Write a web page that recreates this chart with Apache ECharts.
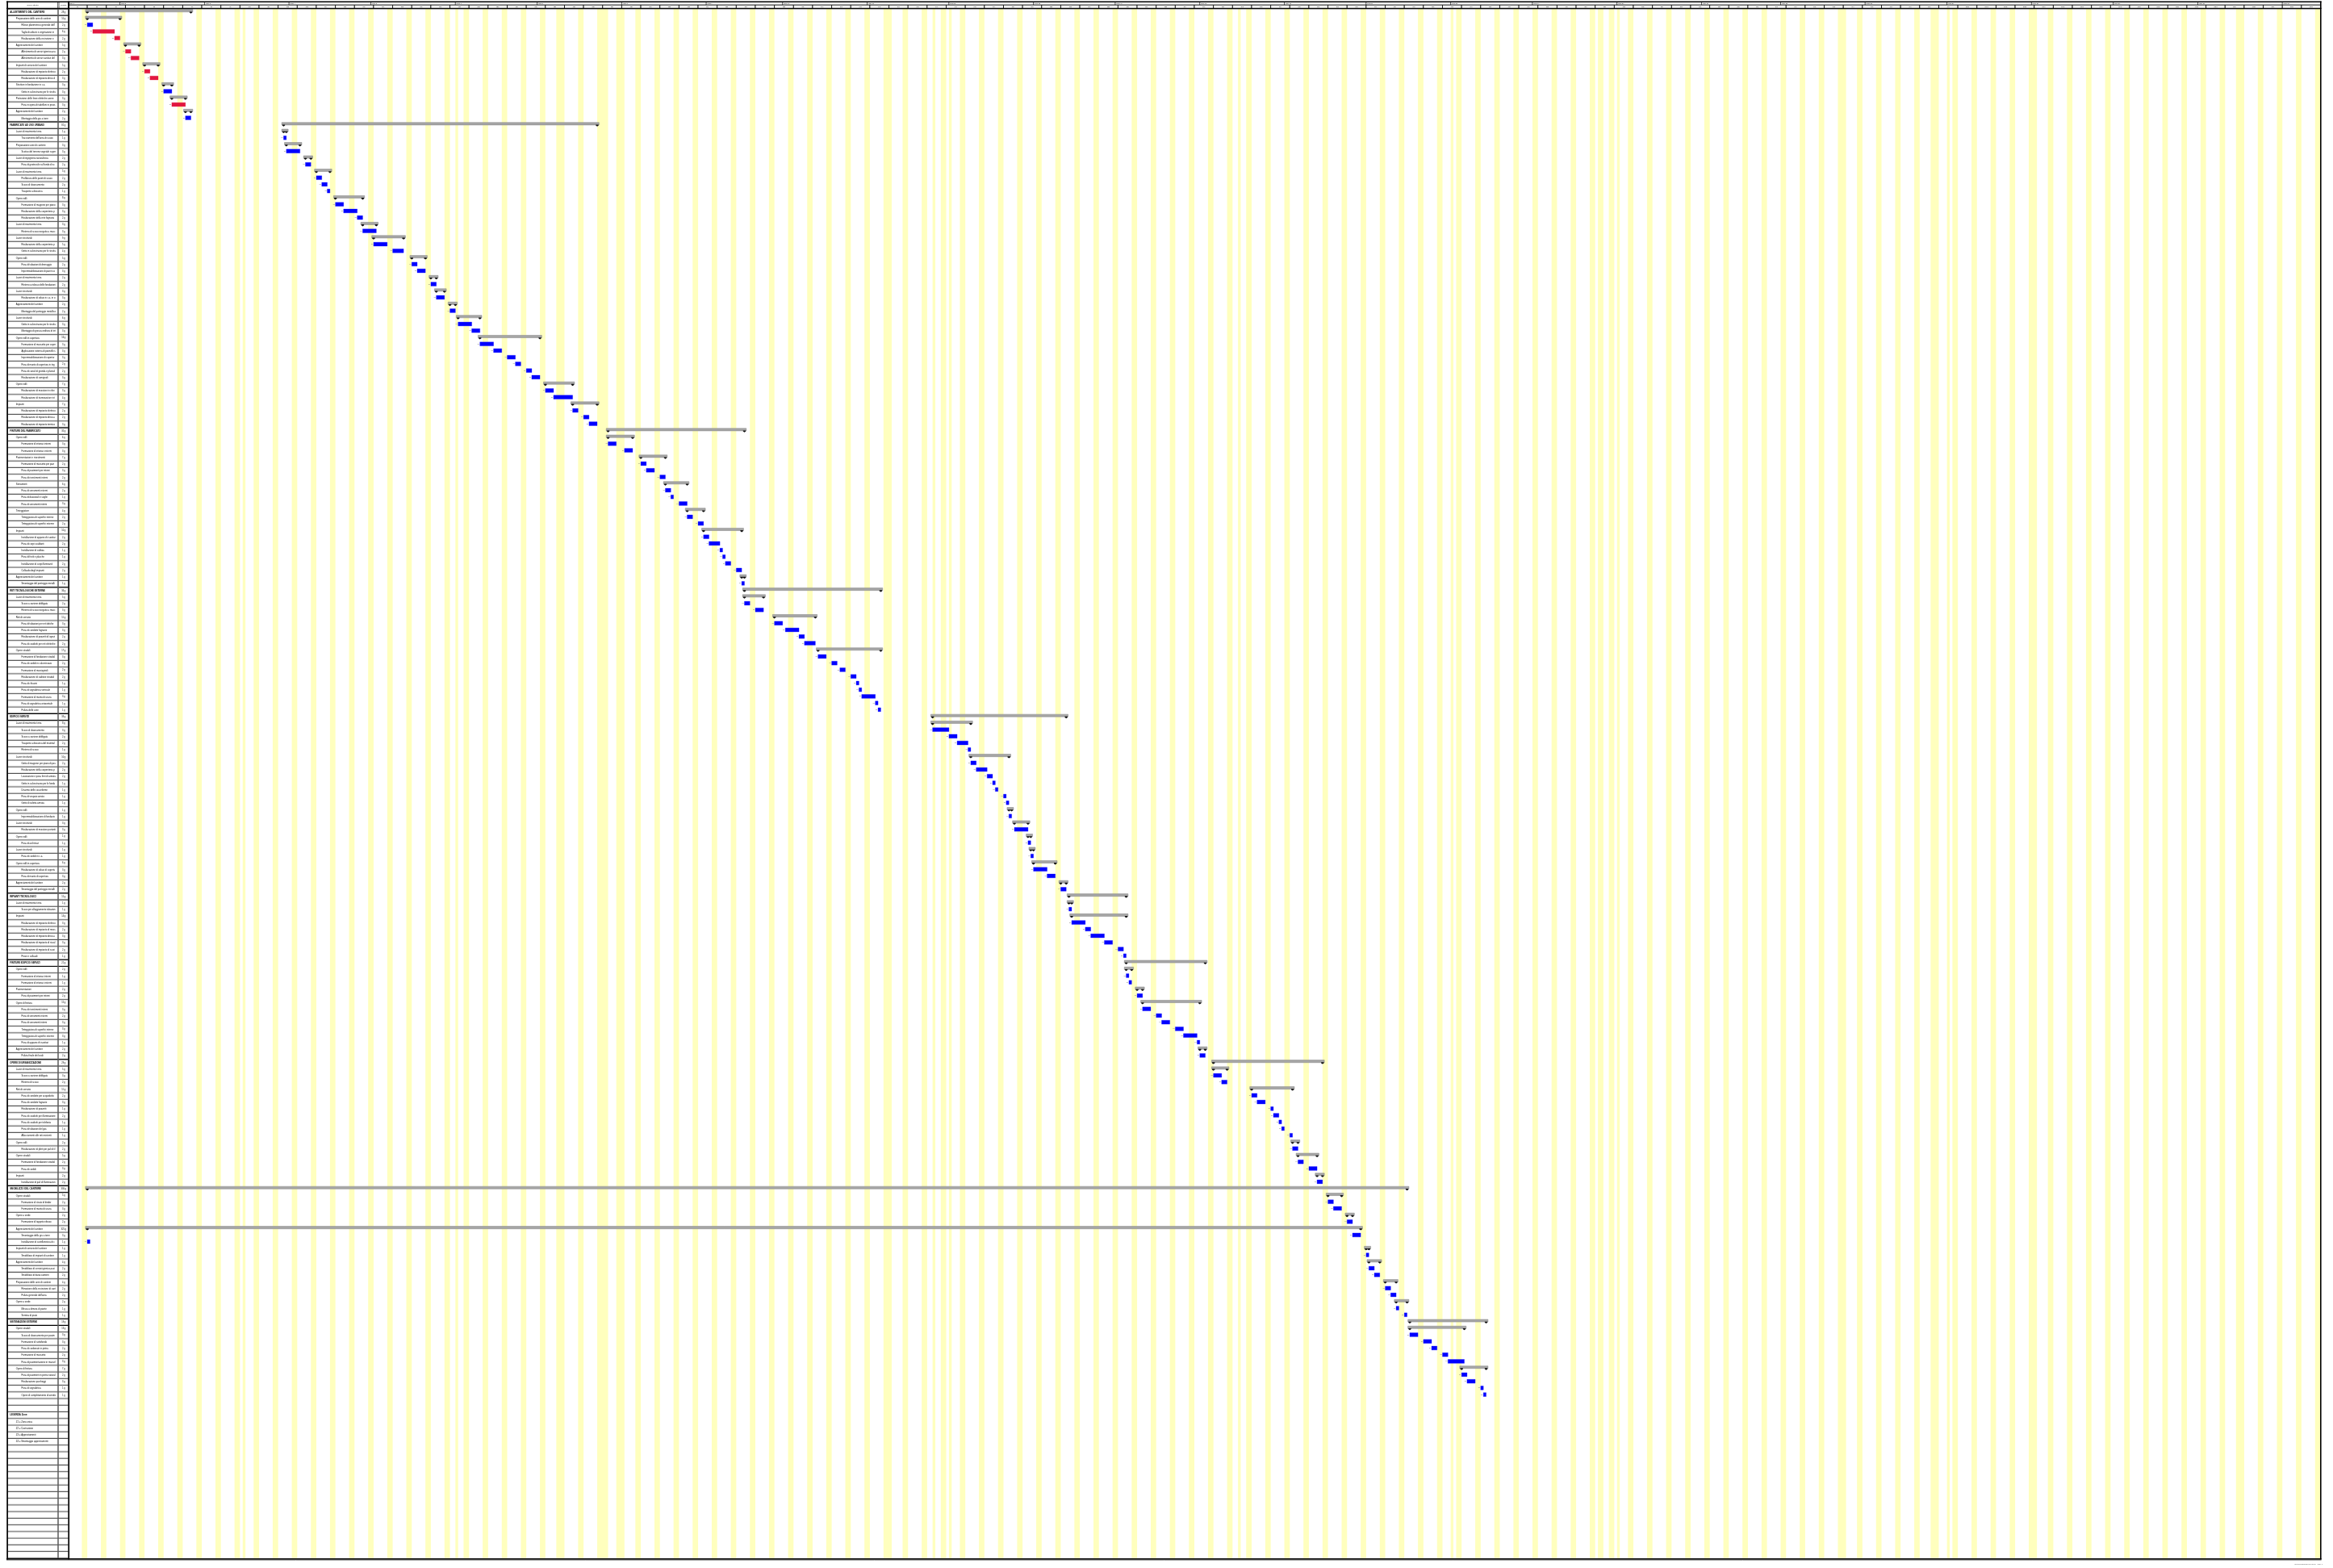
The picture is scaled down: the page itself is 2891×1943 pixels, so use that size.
<!DOCTYPE html>
<html lang="it">
<head>
<meta charset="utf-8">
<title>Cronoprogramma dei lavori</title>
<script src="https://cdn.jsdelivr.net/npm/echarts@6/dist/echarts.min.js"></script>
<style>
html,body{margin:0;padding:0;background:#ffffff;}
#chart{width:2891px;height:1943px;}
</style>
</head>
<body>
<div id="chart"></div>
<script>
// ---- Calendario ----
const inizioCalendario = '2006-06-12';      // lunedì = giorno 0
const giorniTotali = 826;
const righeTabella = 233;
const festivita = ['2006-08-15','2006-11-01','2006-12-08','2006-12-25','2006-12-26','2007-01-01',
  '2007-04-09','2007-04-25','2007-05-01','2007-08-15','2007-11-01','2007-12-25','2007-12-26',
  '2008-01-01','2008-03-24','2008-04-25','2008-05-01','2008-06-02','2008-08-15'];
const etichetteMesi = ['Mese 1','Mese 2','Mese 3','Mese 4','Mese 5','Mese 6','Mese 7','Mese 8',
  'Mese 9','Mese 10','Mese 11','Mese 12','Mese 13','Mese 14','Mese 15','Mese 16','Mese 17',
  'Mese 18','Mese 19','Mese 20','Mese 21','Mese 22','Mese 23','Mese 24','Mese 25','Mese 26',
  'Mese 27','Mese 28'];
const numeroSettimane = 118;
const etichetteSettimane = Array.from({length: numeroSettimane}, (_, i) => 's' + (i + 1));
const zonaPerTipo = {B: 'Z1', R: 'Z3'};

// ---- Attività: [livello, descrizione, inizio, fine (giorni), tipo] ----
// tipo: 'S' = riepilogo, 'B' = lavorazione, 'R' = apprestamento
const allestimentoCantiere = [
  [0,'ALLESTIMENTO DEL CANTIERE',7,45,'S'],
  [1,'Preparazione delle aree di cantiere',7,19,'S'],
  [2,"Rilievo planimetrico generale dell'area",7,9,'B'],
  [2,'Taglio di arbusti e vegetazione in genere',9,17,'R'],
  [2,'Realizzazione della recinzione e degli accessi al cantiere',17,19,'R'],
  [1,'Apprestamenti del cantiere',21,26,'S'],
  [2,'Allestimento di servizi igienico-assistenziali del cantiere',21,23,'R'],
  [2,'Allestimento di servizi sanitari del cantiere',23,26,'R'],
  [1,'Impianti di servizio del cantiere',28,33,'S'],
  [2,'Realizzazione di impianto elettrico del cantiere',28,30,'R'],
  [2,'Realizzazione di impianto idrico del cantiere',30,33,'R'],
  [1,'Strutture in fondazione in c.a.',35,38,'S'],
  [2,'Getto in calcestruzzo per le strutture in fondazione',35,38,'B'],
  [1,'Protezione delle linee elettriche aeree',38,43,'S'],
  [2,'Posa in opera di tabelloni in prossimità di linee aeree',38,43,'R'],
  [1,'Apprestamenti del cantiere',43,45,'S'],
  [2,'Montaggio della gru a torre',43,45,'B']
];
const fabbricatoUrbano = [
  [0,'FABBRICATO AD USO URBANO',79,194,'S'],
  [1,'Lavori di movimento terra',79,80,'S'],
  [2,"Tracciamento dell'area di scavo",79,80,'B'],
  [1,'Preparazione aree di cantiere',80,85,'S'],
  [2,'Scotico del terreno vegetale superficiale',80,85,'B'],
  [1,'Lavori di ingegneria naturalistica',87,89,'S'],
  [2,'Posa di geotessile sul fondo di scavo',87,89,'B'],
  [1,'Lavori di movimento terra',91,96,'S'],
  [2,'Profilatura delle pareti di scavo',91,93,'B'],
  [2,'Scavo di sbancamento',93,95,'B'],
  [2,'Trasporto a discarica',95,96,'B'],
  [1,'Opere edili',98,108,'S'],
  [2,'Formazione di magrone per piano di posa',98,101,'B'],
  [2,'Realizzazione della carpenteria per le strutture',101,106,'B'],
  [2,'Realizzazione della rete fognaria esterna',106,108,'B'],
  [1,'Lavori di movimento terra',108,113,'S'],
  [2,'Rinterro di scavo eseguito a macchina',108,113,'B'],
  [1,'Lavori strutturali',112,123,'S'],
  [2,'Realizzazione della carpenteria per le strutture in fondazione',112,117,'B'],
  [2,'Getto in calcestruzzo per le strutture in fondazione',119,123,'B'],
  [1,'Opere edili',126,131,'S'],
  [2,'Posa di tubazioni di drenaggio',126,128,'B'],
  [2,'Impermeabilizzazione di pareti contro terra',128,131,'B'],
  [1,'Lavori di movimento terra',133,135,'S'],
  [2,'Rinterro a ridosso delle fondazioni',133,135,'B'],
  [1,'Lavori strutturali',135,138,'S'],
  [2,'Realizzazione di solaio in c.a. in opera',135,138,'B'],
  [1,'Apprestamenti del cantiere',140,142,'S'],
  [2,'Montaggio del ponteggio metallico fisso',140,142,'B'],
  [1,'Lavori strutturali',143,151,'S'],
  [2,'Getto in calcestruzzo per le strutture in elevazione',143,148,'B'],
  [2,'Montaggio di grossa orditura di tetto',148,151,'B'],
  [1,'Opere edili in copertura',151,173,'S'],
  [2,'Formazione di massetto per coperture',151,156,'B'],
  [2,'Applicazione esterna di pannelli isolanti',156,159,'B'],
  [2,'Impermeabilizzazione di coperture',161,164,'B'],
  [2,'Posa di manto di copertura in tegole',164,166,'B'],
  [2,'Posa di canali di gronda e pluviali',168,170,'B'],
  [2,'Realizzazione di comignoli',170,173,'B'],
  [1,'Opere edili',175,185,'S'],
  [2,'Realizzazione di murature in elevazione',175,178,'B'],
  [2,'Realizzazione di tramezzature interne',178,185,'B'],
  [1,'Impianti',185,194,'S'],
  [2,'Realizzazione di impianto elettrico',185,187,'B'],
  [2,'Realizzazione di impianto idrico-sanitario',189,191,'B'],
  [2,'Realizzazione di impianto termico',191,194,'B']
];
const finitureFabbricato = [
  [0,'FINITURE DEL FABBRICATO',198,248,'S'],
  [1,'Opere edili',198,207,'S'],
  [2,'Formazione di intonaci interni',198,201,'B'],
  [2,'Formazione di intonaci esterni',204,207,'B'],
  [1,'Pavimentazioni e rivestimenti',210,219,'S'],
  [2,'Formazione di massetto per pavimenti interni',210,212,'B'],
  [2,'Posa di pavimenti per interni',212,215,'B'],
  [2,'Posa di rivestimenti interni',217,219,'B'],
  [1,'Serramenti',219,227,'S'],
  [2,'Posa di serramenti esterni',219,221,'B'],
  [2,'Posa di davanzali e soglie',221,222,'B'],
  [2,'Posa di serramenti interni',224,227,'B'],
  [1,'Tinteggiature',227,233,'S'],
  [2,'Tinteggiatura di superfici interne',227,229,'B'],
  [2,'Tinteggiatura di superfici esterne',231,233,'B'],
  [1,'Impianti',233,247,'S'],
  [2,'Installazione di apparecchi sanitari',233,235,'B'],
  [2,'Posa di corpi scaldanti',235,239,'B'],
  [2,'Installazione di caldaia',239,240,'B'],
  [2,'Posa di frutti e placche',240,241,'B'],
  [2,'Installazione di corpi illuminanti',241,243,'B'],
  [2,'Collaudo degli impianti',245,247,'B'],
  [1,'Apprestamenti del cantiere',247,248,'S'],
  [2,'Smontaggio del ponteggio metallico fisso',247,248,'B']
];
const retiTecnologiche = [
  [0,'RETI TECNOLOGICHE ESTERNE',248,298,'S'],
  [1,'Lavori di movimento terra',248,255,'S'],
  [2,'Scavo a sezione obbligata',248,250,'B'],
  [2,'Rinterro di scavo eseguito a macchina',252,255,'B'],
  [1,'Reti di servizio',259,274,'S'],
  [2,'Posa di tubazioni per reti idriche',259,262,'B'],
  [2,'Posa di condotte fognarie',263,268,'B'],
  [2,'Realizzazione di pozzetti di ispezione',268,270,'B'],
  [2,'Posa di cavidotti per reti elettriche',270,274,'B'],
  [1,'Opere stradali',275,298,'S'],
  [2,'Formazione di fondazione stradale',275,278,'B'],
  [2,'Posa di cordoli in calcestruzzo',280,282,'B'],
  [2,'Formazione di marciapiedi',283,285,'B'],
  [2,'Realizzazione di caditoie stradali',287,289,'B'],
  [2,'Posa di chiusini',289,290,'B'],
  [2,'Posa di segnaletica verticale',290,291,'B'],
  [2,'Formazione di manto di usura',291,296,'B'],
  [2,'Posa di segnaletica orizzontale',296,297,'B'],
  [2,'Pulizia delle aree',297,298,'B']
];
const edificioServizi = [
  [0,'EDIFICIO SERVIZI',317,366,'S'],
  [1,'Lavori di movimento terra',317,331,'S'],
  [2,'Scavo di sbancamento',317,323,'B'],
  [2,'Scavo a sezione obbligata',323,326,'B'],
  [2,'Trasporto a discarica del materiale di scavo',326,330,'B'],
  [2,'Rinterro di scavo',330,331,'B'],
  [1,'Lavori strutturali',331,345,'S'],
  [2,'Getto di magrone per piano di posa',331,333,'B'],
  [2,'Realizzazione della carpenteria per le fondazioni',333,337,'B'],
  [2,'Lavorazione e posa ferri di armatura',337,339,'B'],
  [2,'Getto in calcestruzzo per le fondazioni',339,340,'B'],
  [2,'Disarmo delle casseforme',340,341,'B'],
  [2,'Posa di vespaio aerato',343,344,'B'],
  [2,'Getto di soletta armata',344,345,'B'],
  [1,'Opere edili',345,346,'S'],
  [2,'Impermeabilizzazione di fondazioni',345,346,'B'],
  [1,'Lavori strutturali',347,352,'S'],
  [2,'Realizzazione di murature portanti',347,352,'B'],
  [1,'Opere edili',352,353,'S'],
  [2,'Posa di architravi',352,353,'B'],
  [1,'Lavori strutturali',353,354,'S'],
  [2,'Posa di cordoli in c.a.',353,354,'B'],
  [1,'Opere edili in copertura',354,362,'S'],
  [2,'Realizzazione di solaio di copertura',354,359,'B'],
  [2,'Posa di manto di copertura',359,362,'B'],
  [1,'Apprestamenti del cantiere',364,366,'S'],
  [2,'Smontaggio del ponteggio metallico fisso',364,366,'B']
];
const impiantiTecnologici = [
  [0,'IMPIANTI TECNOLOGICI',367,388,'S'],
  [1,'Lavori di movimento terra',367,368,'S'],
  [2,'Scavo per alloggiamento tubazioni',367,368,'B'],
  [1,'Impianti',368,388,'S'],
  [2,'Realizzazione di impianto elettrico',368,373,'B'],
  [2,'Realizzazione di impianto di messa a terra',373,375,'B'],
  [2,'Realizzazione di impianto idrico-sanitario',375,380,'B'],
  [2,'Realizzazione di impianto di riscaldamento',380,383,'B'],
  [2,'Realizzazione di impianto di scarico',385,387,'B'],
  [2,'Prove e collaudi',387,388,'B']
];
const finitureEdificio = [
  [0,'FINITURE EDIFICIO SERVIZI',388,417,'S'],
  [1,'Opere edili',388,390,'S'],
  [2,'Formazione di intonaci interni',388,389,'B'],
  [2,'Formazione di intonaci esterni',389,390,'B'],
  [1,'Pavimentazioni',392,394,'S'],
  [2,'Posa di pavimenti per interni',392,394,'B'],
  [1,'Opere di finitura',394,415,'S'],
  [2,'Posa di rivestimenti interni',394,397,'B'],
  [2,'Posa di serramenti esterni',399,401,'B'],
  [2,'Posa di serramenti interni',401,404,'B'],
  [2,'Tinteggiatura di superfici interne',406,409,'B'],
  [2,'Tinteggiatura di superfici esterne',409,414,'B'],
  [2,'Posa di apparecchi sanitari',414,415,'B'],
  [1,'Apprestamenti del cantiere',415,417,'S'],
  [2,'Pulizia finale dei locali',415,417,'B']
];
const urbanizzazione = [
  [0,'OPERE DI URBANIZZAZIONE',420,460,'S'],
  [1,'Lavori di movimento terra',420,425,'S'],
  [2,'Scavo a sezione obbligata',420,423,'B'],
  [2,'Rinterro di scavo',423,425,'B'],
  [1,'Reti di servizio',434,449,'S'],
  [2,'Posa di condotte per acquedotto',434,436,'B'],
  [2,'Posa di condotte fognarie',436,439,'B'],
  [2,'Realizzazione di pozzetti',441,442,'B'],
  [2,'Posa di cavidotti per illuminazione pubblica',442,444,'B'],
  [2,'Posa di cavidotti per telefonia',444,445,'B'],
  [2,'Posa di tubazioni del gas',445,446,'B'],
  [2,'Allacciamenti alle reti esistenti',448,449,'B'],
  [1,'Opere edili',449,451,'S'],
  [2,'Realizzazione di plinti per pali di illuminazione',449,451,'B'],
  [1,'Opere stradali',451,458,'S'],
  [2,'Formazione di fondazione stradale',451,453,'B'],
  [2,'Posa di cordoli',455,458,'B'],
  [1,'Impianti',458,460,'S'],
  [2,'Installazione di pali di illuminazione',458,460,'B']
];
const smobilizzoCantiere = [
  [0,'SMOBILIZZO DEL CANTIERE',7,491,'S'],
  [1,'Opere stradali',462,467,'S'],
  [2,'Formazione di strato di binder',462,464,'B'],
  [2,'Formazione di manto di usura',464,467,'B'],
  [1,'Opere a verde',469,471,'S'],
  [2,'Formazione di tappeto erboso',469,471,'B'],
  [1,'Apprestamenti del cantiere',7,474,'S'],
  [2,'Smontaggio della gru a torre',471,474,'B'],
  [2,'Installazione di cartellonistica di cantiere',7,8,'B'],
  [1,'Impianti di servizio del cantiere',476,477,'S'],
  [2,'Smobilizzo di impianti di cantiere',476,477,'B'],
  [1,'Apprestamenti del cantiere',477,481,'S'],
  [2,'Smobilizzo di servizi igienico-assistenziali',477,479,'B'],
  [2,'Smobilizzo di baraccamenti',479,481,'B'],
  [1,'Preparazione delle aree di cantiere',483,487,'S'],
  [2,'Rimozione della recinzione di cantiere',483,485,'B'],
  [2,"Pulizia generale dell'area",485,487,'B'],
  [1,'Opere a verde',487,491,'S'],
  [2,'Messa a dimora di piante',487,488,'B'],
  [2,'Semina di prato',490,491,'B']
];
const sistemazioniEsterne = [
  [0,'SISTEMAZIONI ESTERNE',492,520,'S'],
  [1,'Opere stradali',492,512,'S'],
  [2,'Scavo di sbancamento per pavimentazioni',492,495,'B'],
  [2,'Formazione di sottofondo',497,500,'B'],
  [2,'Posa di cordonate in pietra',500,502,'B'],
  [2,'Formazione di massetto',504,506,'B'],
  [2,'Posa di pavimentazione in masselli',506,512,'B'],
  [1,'Opere di finitura',511,520,'S'],
  [2,'Posa di pavimenti in pietra naturale',511,513,'B'],
  [2,'Realizzazione parcheggi',513,516,'B'],
  [2,'Posa di segnaletica',518,519,'B'],
  [2,'Opere di completamento di arredo urbano',519,520,'B']
];
const legendaZone = [
  null, null,
  [0,'LEGENDA Zone:'],
  [1,'Z1 = Zona unica'],
  [1,'Z2 = Costruzione'],
  [1,'Z3 = Apprestamenti'],
  [1,'Z4 = Smontaggio apprestamenti']
];

// ---- Preparazione dati ----
const righe = [].concat(allestimentoCantiere, fabbricatoUrbano, finitureFabbricato, retiTecnologiche,
  edificioServizi, impiantiTecnologici, finitureEdificio, urbanizzazione, smobilizzoCantiere,
  sistemazioniEsterne, legendaZone);
while (righe.length < righeTabella) righe.push(null);

const DAY_MS = 86400000;
const t0 = Date.parse(inizioCalendario + 'T00:00:00Z');
const giornoDi = s => Math.round((Date.parse(s + 'T00:00:00Z') - t0) / DAY_MS);
const festivi = new Set(festivita.map(giornoDi));
const nonLavorativo = d => (d % 7 === 5 || d % 7 === 6 || festivi.has(d));

// fasce gialle dei giorni non lavorativi (giorni consecutivi uniti)
const fasce = [];
for (let d = 0; d < giorniTotali; d++) {
  if (!nonLavorativo(d)) continue;
  const last = fasce[fasce.length - 1];
  if (last && last[1] === d) last[1] = d + 1; else fasce.push([d, d + 1]);
}
const durata = (s, e) => { let n = 0; for (let d = s; d < e; d++) if (!nonLavorativo(d)) n++; return n; };

// mesi di calendario
const mesi = [];
{
  const d0 = new Date(t0);
  let y = d0.getUTCFullYear(), m = d0.getUTCMonth(), i = 0;
  let s = 0;
  while (s < giorniTotali) {
    m++; if (m > 11) { m = 0; y++; }
    const e = Math.min(giorniTotali, Math.round((Date.UTC(y, m, 1) - t0) / DAY_MS));
    mesi.push([s, e, i]);
    s = e; i++;
  }
}
const settimane = etichetteSettimane.map((_, k) => [7 * k, Math.min(7 * k + 7, giorniTotali), k]);

const barre = [];
righe.forEach((r, i) => { if (r && r.length > 2) barre.push({value: [i, r[2], r[3]], tipo: r[4]}); });

// ---- Disegno ----
const FONT = '"Liberation Sans", Arial, sans-serif';
const COL_NOME = 62.5, COL_DUR0 = 64, LARG_TAB = 75.5;
const rientri = [2.7, 10.3, 17.0];

function txt(text, x, y, size, opts) {
  return {type: 'text', silent: true, style: Object.assign({
    text: text, x: x, y: y, fill: '#000', fontSize: size, fontFamily: FONT,
    align: 'left', verticalAlign: 'middle'}, opts || {})};
}

function disegnaFasce(params, api) {
  const a = api.coord([api.value(0), 0]);
  const b = api.coord([api.value(1), righeTabella]);
  return {type: 'rect', shape: {x: a[0], y: a[1], width: b[0] - a[0], height: b[1] - a[1]},
    style: {fill: '#ffffbe'}};
}

function disegnaBarra(params, api) {
  const riga = api.value(0);
  const a = api.coord([api.value(1), riga]);
  const b = api.coord([api.value(2), riga]);
  const tipo = barre[params.dataIndex].tipo;
  if (tipo === 'S') {
    const yb = a[1] + 0.8;
    const cap = x => ({type: 'polygon', shape: {points: [[x - 1.7, yb + 2.7], [x + 1.7, yb + 2.7],
      [x + 1.7, yb + 3.8], [x, yb + 5.0], [x - 1.7, yb + 3.8]]}, style: {fill: '#111'}});
    return {type: 'group', children: [
      {type: 'rect', shape: {x: a[0] - 2.3, y: yb, width: b[0] - a[0] + 4.6, height: 3.1},
        style: {fill: '#a6a6a6', stroke: '#858585', lineWidth: 0.5}},
      cap(a[0]), cap(b[0])
    ]};
  }
  const colore = tipo === 'R' ? '#e2173f' : '#0000ff';
  return {type: 'group', children: [
    {type: 'rect', shape: {x: a[0], y: a[1] + 0.9, width: b[0] - a[0], height: 4.8},
      style: {fill: colore, stroke: colore, lineWidth: 0.3}},
    txt(zonaPerTipo[tipo], a[0] - 0.7, a[1] + 3.3, 2.1, {align: 'right', fill: '#7a7a7a'})
  ]};
}

function disegnaRigaTabella(params, api) {
  const i = api.value(0);
  const r = righe[i];
  const a = api.coord([0, i]);
  const b = api.coord([LARG_TAB, i + 1]);
  const xn = api.coord([COL_NOME, i])[0];
  const xd = api.coord([COL_DUR0, i])[0];
  const yc = (a[1] + b[1]) / 2;
  const figli = [];
  const forte = r && r[0] === 0 && r.length > 2;
  figli.push({type: 'line', shape: {x1: a[0], y1: b[1], x2: b[0], y2: b[1]},
    style: {stroke: '#000', lineWidth: forte ? 1.1 : 0.7}});
  figli.push({type: 'line', shape: {x1: a[0], y1: b[1] - 0.9, x2: b[0], y2: b[1] - 0.9},
    style: {stroke: '#b5b5b5', lineWidth: 0.5}});
  if (forte) figli.push({type: 'line', shape: {x1: a[0], y1: a[1], x2: b[0], y2: a[1]},
    style: {stroke: '#000', lineWidth: 1.1}});
  if (r) {
    const x = a[0] + rientri[r[0]];
    figli.push(txt(r[1], x, yc, 2.8, {fontWeight: r[0] === 0 ? 'bold' : 'normal',
      width: xn - x - 1.5, overflow: 'truncate', ellipsis: ''}));
    if (r.length > 2) figli.push(txt(durata(r[2], r[3]) + ' g', (xd + b[0]) / 2, yc, 2.6, {align: 'center'}));
  }
  return {type: 'group', children: figli};
}

function disegnaIntestazione(params, api) {
  const liv = api.value(0), s = api.value(1), e = api.value(2), k = api.value(3);
  const y0 = liv === 0 ? 0 : 0.44, y1 = liv === 0 ? 0.44 : 1;
  const a = api.coord([s, y0]);
  const b = api.coord([e, y1]);
  const etichetta = liv === 0 ? etichetteMesi[k] : etichetteSettimane[k];
  return {type: 'group', children: [
    {type: 'rect', shape: {x: a[0], y: a[1], width: b[0] - a[0], height: b[1] - a[1]},
      style: {fill: '#fff', stroke: '#000', lineWidth: liv === 0 ? 0.5 : 0.8}},
    liv === 0 ? txt(etichetta, a[0] + 1.2, (a[1] + b[1]) / 2, 1.9)
              : txt(etichetta, (a[0] + b[0]) / 2, (a[1] + b[1]) / 2 + 0.3, 1.9, {align: 'center'})
  ]};
}

function disegnaIntestazioneTabella(params, api) {
  const a = api.coord([0, 0]);
  const b = api.coord([LARG_TAB, 1]);
  const xn = api.coord([COL_NOME, 0])[0];
  const xd = api.coord([COL_DUR0, 0])[0];
  const yc = (a[1] + b[1]) / 2;
  return {type: 'group', children: [
    {type: 'rect', shape: {x: a[0], y: a[1], width: xn - a[0], height: b[1] - a[1]},
      style: {fill: '#fff', stroke: '#000', lineWidth: 0.6}},
    {type: 'rect', shape: {x: xd, y: a[1], width: b[0] - xd, height: b[1] - a[1]},
      style: {fill: '#fff', stroke: '#000', lineWidth: 0.6}},
    txt('Nome attività', (a[0] + xn) / 2, yc, 2.4, {align: 'center'}),
    txt('Durata', (xd + b[0]) / 2, yc, 2.4, {align: 'center'})
  ]};
}

const TOP = 10.9, ALT = 8.24 * righeTabella;
const X0 = 84.5, LARG = 3.379 * giorniTotali;

const chart = echarts.init(document.getElementById('chart'), null, {renderer: 'canvas'});
chart.setOption({
  animation: false,
  backgroundColor: '#ffffff',
  grid: [
    {left: X0, top: TOP, width: LARG, height: ALT},
    {left: 9.5, top: TOP, width: LARG_TAB - 0.5, height: ALT},
    {left: X0, top: 2.5, width: LARG, height: TOP - 2.5},
    {left: 9.5, top: 2.5, width: LARG_TAB - 0.5, height: TOP - 2.5}
  ],
  xAxis: [
    {type: 'value', gridIndex: 0, min: 0, max: giorniTotali, show: false},
    {type: 'value', gridIndex: 1, min: 0, max: LARG_TAB, show: false},
    {type: 'value', gridIndex: 2, min: 0, max: giorniTotali, show: false},
    {type: 'value', gridIndex: 3, min: 0, max: LARG_TAB, show: false}
  ],
  yAxis: [
    {type: 'value', gridIndex: 0, min: 0, max: righeTabella, inverse: true, show: false},
    {type: 'value', gridIndex: 1, min: 0, max: righeTabella, inverse: true, show: false},
    {type: 'value', gridIndex: 2, min: 0, max: 1, inverse: true, show: false},
    {type: 'value', gridIndex: 3, min: 0, max: 1, inverse: true, show: false}
  ],
  series: [
    {type: 'custom', name: 'Giorni non lavorativi', xAxisIndex: 0, yAxisIndex: 0, clip: false, silent: true,
      data: fasce, renderItem: disegnaFasce, z: 1},
    {type: 'custom', name: 'Attività', xAxisIndex: 0, yAxisIndex: 0, clip: false, silent: true,
      data: barre, renderItem: disegnaBarra, z: 3},
    {type: 'custom', name: 'Tabella', xAxisIndex: 1, yAxisIndex: 1, clip: false, silent: true,
      data: righe.map((_, i) => [i]), renderItem: disegnaRigaTabella, z: 3},
    {type: 'custom', name: 'Calendario', xAxisIndex: 2, yAxisIndex: 2, clip: false, silent: true,
      data: mesi.map(m => [0, m[0], m[1], m[2]]).concat(settimane.map(w => [1, w[0], w[1], w[2]])),
      renderItem: disegnaIntestazione, z: 3},
    {type: 'custom', name: 'Intestazione', xAxisIndex: 3, yAxisIndex: 3, clip: false, silent: true,
      data: [[0]], renderItem: disegnaIntestazioneTabella, z: 3}
  ],
  graphic: [
    // cornice del cronoprogramma
    {type: 'line', z: 10, shape: {x1: 8, y1: 2.2, x2: 2876.6, y2: 2.2}, style: {stroke: '#000', lineWidth: 1.5}},
    {type: 'line', z: 10, shape: {x1: 9.1, y1: 1.5, x2: 9.1, y2: 1932.6}, style: {stroke: '#000', lineWidth: 1.7}},
    {type: 'line', z: 10, shape: {x1: 2875.8, y1: 1.5, x2: 2875.8, y2: 1932.6}, style: {stroke: '#000', lineWidth: 1.6}},
    {type: 'line', z: 10, shape: {x1: 8, y1: 1931.9, x2: 2876.6, y2: 1931.9}, style: {stroke: '#000', lineWidth: 1.8}},
    {type: 'line', z: 10, shape: {x1: 8, y1: 1933.4, x2: 2876.6, y2: 1933.4}, style: {stroke: '#8a8a8a', lineWidth: 0.8}},
    {type: 'line', z: 10, shape: {x1: 85.2, y1: 1.5, x2: 85.2, y2: 1932.6}, style: {stroke: '#000', lineWidth: 1.7}},
    {type: 'line', z: 10, shape: {x1: 72.0, y1: 10.9, x2: 72.0, y2: 1931}, style: {stroke: '#5a5a5a', lineWidth: 1.5}},
    {type: 'line', z: 10, shape: {x1: 8, y1: 10.4, x2: 2876.6, y2: 10.4}, style: {stroke: '#000', lineWidth: 1.1}},
    {type: 'text', z: 10, style: {text: 'Cronoprogramma dei lavori - Pag. 1', x: 2878, y: 1938.5,
      align: 'right', verticalAlign: 'middle', fontSize: 2.2, fontFamily: FONT, fill: '#555'}}
  ]
});
</script>
</body>
</html>
